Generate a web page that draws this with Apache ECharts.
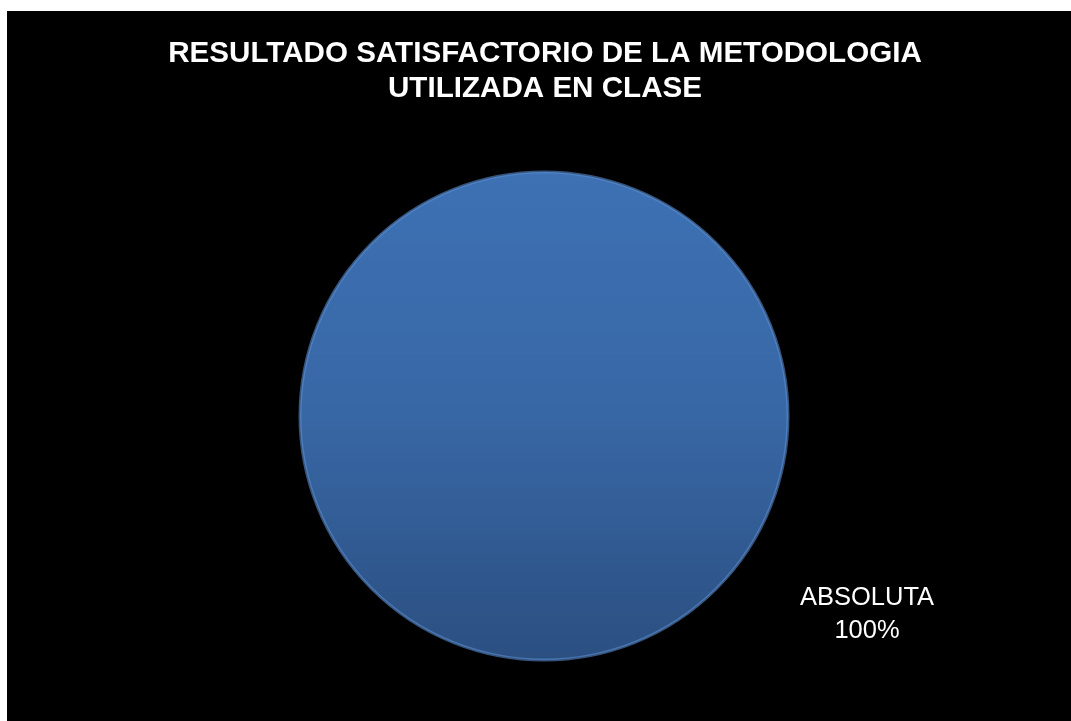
<!DOCTYPE html>
<html>
<head>
<meta charset="utf-8">
<script src="https://cdn.jsdelivr.net/npm/echarts@6/dist/echarts.min.js"></script>
<style>
  html, body { margin: 0; padding: 0; background: #fff; }
  #chart { position: absolute; left: 7px; top: 11px; width: 1064px; height: 710px; background: #000; }
</style>
</head>
<body>
<div id="chart"></div>
<script>
// datos del gráfico
const categories = ['ABSOLUTA']
const values = [100]
const titleText = 'RESULTADO SATISFACTORIO DE LA METODOLOGIA\nUTILIZADA EN CLASE'

const chart = echarts.init(document.getElementById('chart'), null, { renderer: 'canvas' })

const option = {
  backgroundColor: '#000',
  animation: false,
  title: {
    text: titleText,
    left: 533,
    textAlign: 'center',
    top: 20,
    textStyle: {
      color: '#fff',
      fontFamily: 'Liberation Sans, Arial, sans-serif',
      fontWeight: 'bold',
      fontSize: 29.6,
      lineHeight: 35
    }
  },
  series: [
    {
      type: 'pie',
      center: [537, 405],
      radius: 244,
      silent: true,
      data: categories.map((name, i) => ({ name, value: values[i] })),
      itemStyle: {
        color: {
          type: 'linear', x: 0, y: 0, x2: 0, y2: 1,
          colorStops: [
            { offset: 0, color: '#3d71b4' },
            { offset: 0.5, color: '#3867a5' },
            { offset: 1, color: '#2b4f81' }
          ]
        },
        borderColor: 'rgba(90,140,205,0.6)',
        borderWidth: 3
      },
      labelLine: { show: false },
      label: {
        show: true,
        position: 'inside',
        formatter: '{b}\n{d}%',
        color: '#fff',
        fontFamily: 'Liberation Sans, Arial, sans-serif',
        fontSize: 25.5,
        lineHeight: 33
      },
      // la etiqueta va abajo a la derecha, como en el original
      labelLayout: () => ({ x: 860, y: 603, align: 'center', verticalAlign: 'middle' })
    }
  ]
}

chart.setOption(option)
window.addEventListener('resize', chart.resize)
</script>
</body>
</html>
